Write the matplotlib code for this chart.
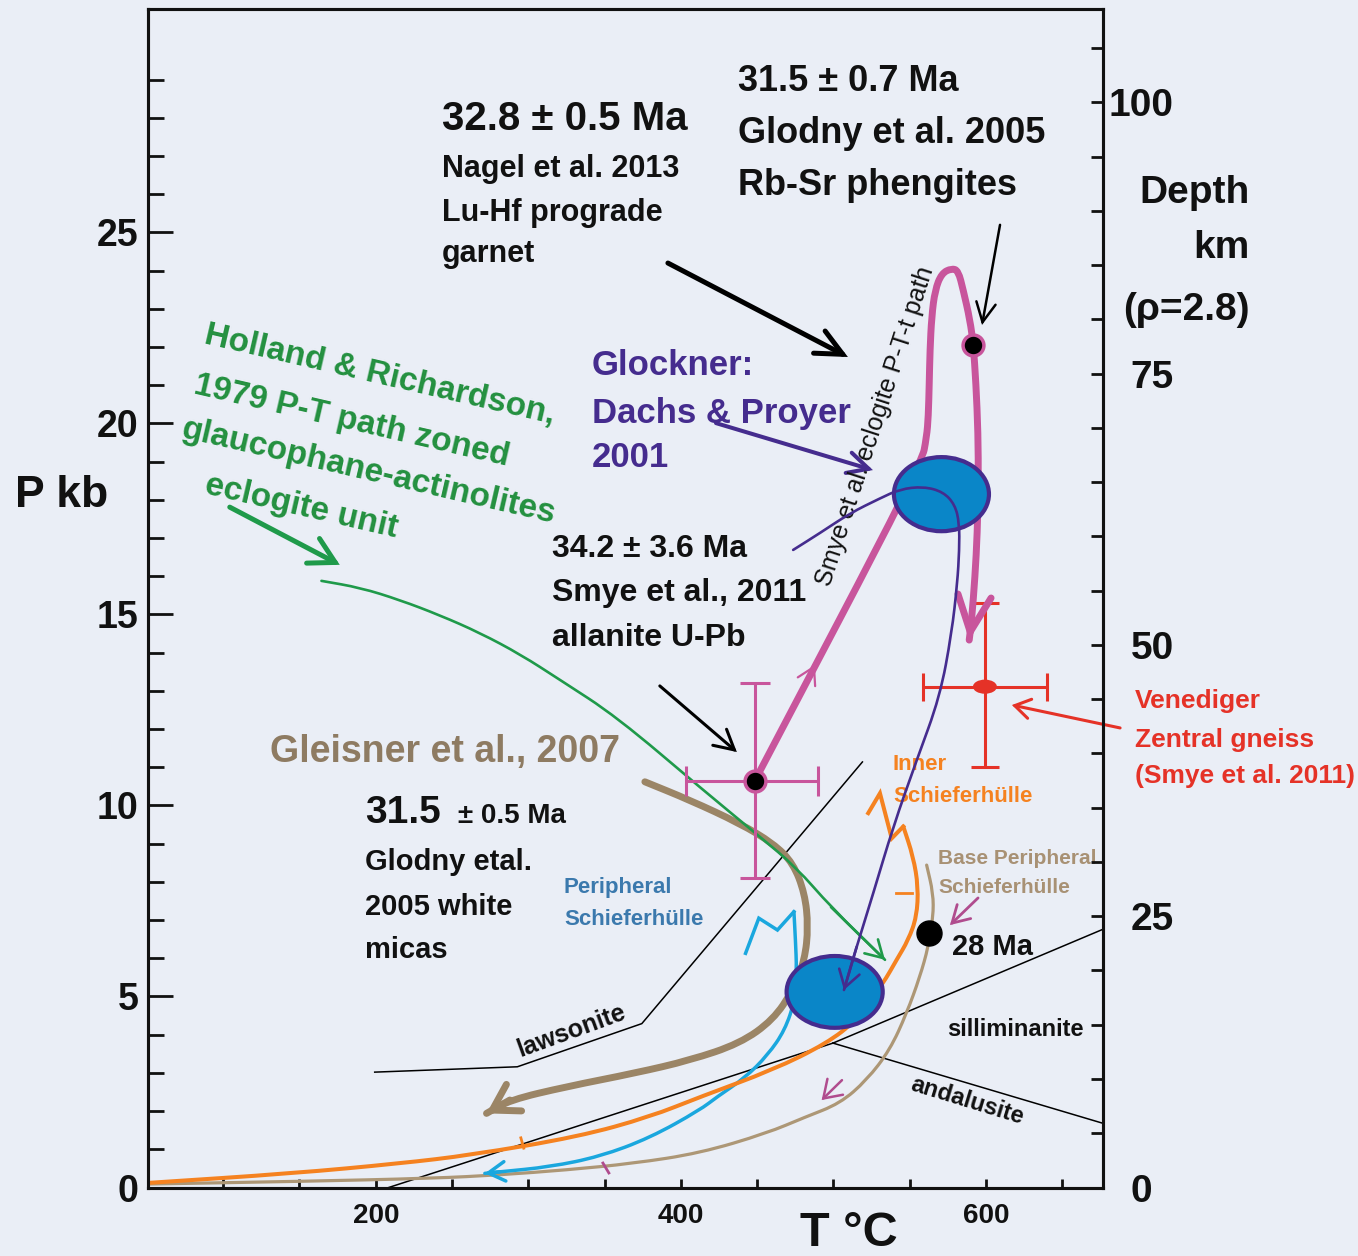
import matplotlib
matplotlib.use("Agg")
import matplotlib.pyplot as plt
from matplotlib.patches import Ellipse, PathPatch
from matplotlib.path import Path

plt.rcParams['font.family'] = ['Liberation Sans', 'DejaVu Sans']
plt.rcParams['font.weight'] = 'bold'

BG = '#eaeef6'
PINK = '#c8559c'
PURPLE = '#452c8e'
BLUE = '#0a86c8'
GREEN = '#1f9a4a'
BROWN = '#9b8566'
ORANGE = '#f58220'
CYAN = '#1aa7de'
TAN = '#ad9776'
RED = '#e53227'
MAGENTA = '#b04c8e'

# ---- data: temperature (degC) and pressure (kb) ----
# Smye et al. eclogite P-T-t path (thick pink)
pink_T = [448.5, 557.8, 561.1, 562.2, 562.8, 563.3, 564.4, 566.6, 570.9, 577.5, 581.8,
          585.1, 589.5, 591.7, 593.4, 594.8, 595.0, 594.3, 592.8, 590.6, 589.0]
pink_P = [10.65, 18.96, 19.65, 20.18, 21.05, 21.92, 22.80, 23.49, 23.93, 24.06, 24.00,
          23.49, 22.71, 22.06, 21.06, 19.75, 18.44, 17.13, 15.99, 14.86, 14.33]

# Glockner, Dachs & Proyer 2001 (thin purple)
dachs_T = [473.6, 491.1, 510.8, 530.5, 543.6, 558.9, 572.0, 579.7, 582.5, 582.5, 581.2,
           577.5, 569.8, 554.6, 539.2, 526.1, 515.2, 506.9]
dachs_P = [16.69, 17.13, 17.65, 18.04, 18.28, 18.35, 18.21, 17.87, 17.39, 16.69, 15.82,
           14.51, 12.85, 11.19, 9.45, 7.70, 6.30, 5.17]

# Holland & Richardson 1979 (green)
holland_T = [164.4, 190.0, 215.7, 242.0, 268.2, 295.0, 320.7, 358.0, 414.4, 451.8, 475.4,
             498.4, 533.8]
holland_P = [15.88, 15.70, 15.38, 14.98, 14.52, 13.95, 13.29, 12.32, 10.41, 9.18, 8.39,
             7.34, 5.96]

# Gleisner et al. 2007 (thick brown)
gleisner_T = [376.4, 405.9, 438.7, 460.5, 473.6, 481.2, 483.5, 481.2, 473.6, 460.5,
              438.7, 405.9, 370.5, 325.0, 287.9, 272.6]
gleisner_P = [10.62, 10.14, 9.53, 9.01, 8.49, 7.70, 6.83, 5.96, 5.17, 4.39,
              3.77, 3.33, 3.00, 2.64, 2.29, 1.94]

# Inner Schieferhuelle (orange); last four points are the zig-zag
inner_T = [50.7, 145.5, 215.7, 262.3, 332.9, 379.7, 412.5, 460.5, 495.5, 515.2, 532.7,
           541.4, 549.1, 554.6, 555.6, 552.3, 545.8, 538.2, 530.5, 522.8]
inner_P = [0.12, 0.37, 0.63, 0.85, 1.33, 1.85, 2.37, 3.08, 3.77, 4.38, 5.35,
           5.96, 6.48, 7.09, 7.87, 8.66, 9.45, 9.14, 10.32, 9.80]

# Peripheral Schieferhuelle (cyan); first four points are the "M"
periph_T = [442.4, 451.1, 463.3, 474.1, 475.1, 475.9, 474.8, 468.2, 457.0, 442.0,
            423.6, 412.5, 379.7, 346.9, 314.1, 281.3, 271.5]
periph_P = [6.13, 7.05, 6.74, 7.22, 6.48, 5.69, 4.91, 4.12, 3.47, 2.87,
            2.37, 2.03, 1.30, 0.81, 0.54, 0.41, 0.37]

# Base Peripheral Schieferhuelle (tan)
base_T = [561.1, 565.4, 565.4, 562.2, 556.7, 548.0, 537.0, 521.8, 504.3, 481.3,
          456.2, 412.5, 368.7, 325.0, 281.3, 237.6, 150.2, 50.7]
base_P = [8.44, 7.70, 7.09, 6.30, 5.52, 4.56, 3.60, 2.81, 2.20, 1.84,
          1.42, 0.90, 0.63, 0.46, 0.33, 0.24, 0.16, 0.09]

# reaction lines
laws_T = [199.3, 292.8, 374.4, 519.0]
laws_P = [3.02, 3.16, 4.29, 11.14]
ky_and_T = [208.5, 499.7]
ky_and_P = [0.0, 3.78]
ky_sil_T = [499.7, 676.7]
ky_sil_P = [3.78, 6.76]
and_sil_T = [499.7, 676.7]
and_sil_P = [3.78, 1.68]

# Glockner P-T fields (ellipses)
ell_T = [570.8, 500.8]
ell_P = [18.15, 5.12]
ell_w = [62.3, 63.0]
ell_h = [1.94, 1.88]

# dated points
smye_pts_T = [448.5, 591.7]
smye_pts_P = [10.65, 22.06]
smye_Terr = [[45.0], [41.5]]
smye_Perr = 2.55
ven_T = 599.3
ven_P = 13.11
ven_Terr = 40.5
ven_Perr = [[2.10], [2.19]]
ma28_T = 562.6
ma28_P = 6.65

KM_PER_KB = 3.52
depth_ticks = [0, 25, 50, 75, 100]

fig = plt.figure(figsize=(13.58, 12.56), dpi=100, facecolor=BG)
ax = fig.add_axes([148 / 1358, 1 - 1187.5 / 1256, (1103 - 148) / 1358, (1187.5 - 9) / 1256])
ax.set_facecolor(BG)
ax.set_xlim(50.7, 676.7)
ax.set_ylim(0, 30.85)


def arrow(tail, tip, color, lw, hl, hw, ms=20, z=6):
    ax.annotate('', xy=tip, xytext=tail, annotation_clip=False, zorder=z,
                arrowprops=dict(arrowstyle='->,head_length=%g,head_width=%g' % (hl, hw),
                                color=color, lw=lw, shrinkA=0, shrinkB=0,
                                mutation_scale=ms, capstyle='round', joinstyle='miter'))


def smooth(xs, ys, color, lw, z):
    # quadratic curve through segment midpoints, read points as control points
    verts = [(xs[0], ys[0]), ((xs[0] + xs[1]) / 2, (ys[0] + ys[1]) / 2)]
    codes = [Path.MOVETO, Path.LINETO]
    for i in range(1, len(xs) - 1):
        verts += [(xs[i], ys[i]), ((xs[i] + xs[i + 1]) / 2, (ys[i] + ys[i + 1]) / 2)]
        codes += [Path.CURVE3, Path.CURVE3]
    verts.append((xs[-1], ys[-1]))
    codes.append(Path.LINETO)
    ax.add_patch(PathPatch(Path(verts, codes), fill=False, edgecolor=color, lw=lw,
                           zorder=z, capstyle='round', joinstyle='round'))


# reaction lines
for xs, ys in [(laws_T, laws_P), (ky_and_T, ky_and_P), (ky_sil_T, ky_sil_P), (and_sil_T, and_sil_P)]:
    ax.plot(xs, ys, color='black', lw=1.1, zorder=2)

# terrain paths
smooth(base_T, base_P, TAN, 2.3, 3)
ax.plot(periph_T[:4], periph_P[:4], color=CYAN, lw=2.5, zorder=3, solid_joinstyle='miter')
smooth(periph_T[3:], periph_P[3:], CYAN, 2.5, 3)
arrow((periph_T[-2], periph_P[-2]), (periph_T[-1], periph_P[-1]), CYAN, 2.5, 0.6, 0.35)
smooth(inner_T[:17], inner_P[:17], ORANGE, 2.9, 3)
ax.plot(inner_T[16:], inner_P[16:], color=ORANGE, lw=2.9, zorder=3, solid_joinstyle='miter')
ax.plot([295.1, 297.0], [1.30, 1.03], color=ORANGE, lw=2, zorder=3)
ax.plot([541.0, 551.5], [7.71, 7.71], color=ORANGE, lw=2, zorder=3)
ax.plot([348.9, 352.8], [0.64, 0.38], color=MAGENTA, lw=2, zorder=3)
arrow((505.6, 2.81), (492.3, 2.29), MAGENTA, 1.8, 0.6, 0.4, z=4)

smooth(gleisner_T, gleisner_P, BROWN, 5, 3)
arrow((gleisner_T[-2], gleisner_P[-2]), (gleisner_T[-1], gleisner_P[-1]), BROWN, 5, 0.9, 0.55)

smooth(holland_T, holland_P, GREEN, 1.9, 4)
arrow((holland_T[-2], holland_P[-2]), (holland_T[-1], holland_P[-1]), GREEN, 1.9, 0.6, 0.35)

# Smye et al. error bar and path
ax.errorbar(smye_pts_T[0], smye_pts_P[0], xerr=smye_Terr, yerr=smye_Perr, fmt='none',
            ecolor=PINK, elinewidth=2.2, capsize=11, capthick=2.2, zorder=4)
smooth(pink_T, pink_P, PINK, 5, 5)
arrow((pink_T[-2], pink_P[-2]), (pink_T[-1], pink_P[-1]), PINK, 5, 1.3, 0.6)
arrow((475.0, 12.66), (487.9, 13.68), PINK, 1.6, 0.6, 0.35)

# Venediger
ax.errorbar(ven_T, ven_P, xerr=ven_Terr, yerr=ven_Perr, fmt='none', ecolor=RED,
            elinewidth=2.2, capsize=10, capthick=2.2, zorder=4)
ax.add_patch(Ellipse((ven_T, ven_P), 15.7, 0.37, facecolor=RED, edgecolor='none', zorder=5))

# Glockner ellipses
for t, p, w, h in zip(ell_T, ell_P, ell_w, ell_h):
    ax.add_patch(Ellipse((t, p), w, h, facecolor=BLUE, edgecolor=PURPLE, lw=3, zorder=7))
smooth(dachs_T, dachs_P, PURPLE, 1.9, 8)
arrow((dachs_T[-2], dachs_P[-2]), (dachs_T[-1], dachs_P[-1]), PURPLE, 1.9, 0.6, 0.38, z=8)

# dots
ax.plot(smye_pts_T, smye_pts_P, 'o', ms=15, mfc='black', mec=PINK, mew=2.5, zorder=9)
ax.plot([ma28_T], [ma28_P], 'o', ms=18, mfc='black', mec='black', zorder=9)

# pointer arrows
arrow((391.5, 24.20), (509.5, 21.74), 'black', 3.6, 0.95, 0.45)
arrow((609.2, 25.20), (597.4, 22.58), 'black', 1.8, 0.7, 0.35)
arrow((386.2, 13.13), (436.7, 11.40), 'black', 2.2, 0.7, 0.38)
arrow((423.0, 20.01), (525.9, 18.78), PURPLE, 2.9, 0.75, 0.38)
arrow((104.3, 17.81), (176.4, 16.30), GREEN, 3.6, 0.9, 0.5)
arrow((687.9, 12.03), (617.0, 12.63), RED, 2.2, 0.55, 0.35)
arrow((594.8, 7.58), (576.4, 6.87), MAGENTA, 2.0, 0.6, 0.35)

# ---- annotations ----
ax.text(243.3, 27.67, '32.8 \u00b1 0.5 Ma', fontsize=29, color='#111111')
ax.text(243.3, 26.45, 'Nagel et al. 2013', fontsize=22, color='#111111')
ax.text(243.3, 25.30, 'Lu-Hf prograde', fontsize=22, color='#111111')
ax.text(243.3, 24.23, 'garnet', fontsize=22, color='#111111')

ax.text(437.4, 28.71, '31.5 \u00b1 0.7 Ma', fontsize=26, color='#111111')
ax.text(437.4, 27.34, 'Glodny et al. 2005', fontsize=26, color='#111111')
ax.text(437.4, 25.98, 'Rb-Sr phengites', fontsize=26, color='#111111')

ax.text(341.6, 21.26, 'Glockner:', fontsize=25, color=PURPLE)
ax.text(341.6, 20.01, 'Dachs & Proyer', fontsize=25, color=PURPLE)
ax.text(341.6, 18.85, '2001', fontsize=25, color=PURPLE)

for s, t, p in [('Holland & Richardson,', 86.6, 22.11), ('1979 P-T path zoned', 80.0, 20.80),
                ('glaucophane-actinolites', 71.5, 19.65), ('eclogite unit', 87.2, 18.18)]:
    ax.text(t, p, s, fontsize=24, color='#23903f', rotation=-13, rotation_mode='anchor',
            ha='left', va='baseline')

ax.text(315.4, 16.51, '34.2 \u00b1 3.6 Ma', fontsize=23, color='#111111')
ax.text(315.4, 15.35, 'Smye et al., 2011', fontsize=23, color='#111111')
ax.text(315.4, 14.18, 'allanite U-Pb', fontsize=23, color='#111111')

ax.text(130.5, 11.14, 'Gleisner et al., 2007', fontsize=27, color='#8e7b62')

ax.text(192.8, 9.54, '31.5', fontsize=28, color='#111111')
ax.text(253.8, 9.54, '\u00b1 0.5 Ma', fontsize=20, color='#111111')
ax.text(192.8, 8.31, 'Glodny etal.', fontsize=21, color='#111111')
ax.text(192.8, 7.13, '2005 white', fontsize=21, color='#111111')
ax.text(192.8, 6.01, 'micas', fontsize=21, color='#111111')

ax.text(323.3, 7.71, 'Peripheral', fontsize=16, color='#3b79ad')
ax.text(323.3, 6.87, 'Schieferh\u00fclle', fontsize=16, color='#3b79ad')
ax.text(539.0, 10.93, 'Inner', fontsize=16, color=ORANGE)
ax.text(539.0, 10.09, 'Schieferh\u00fclle', fontsize=16, color=ORANGE)
ax.text(568.5, 8.47, 'Base Peripheral', fontsize=15, color='#a89174')
ax.text(568.5, 7.71, 'Schieferh\u00fclle', fontsize=15, color='#a89174')
ax.text(577.7, 6.09, '28 Ma', fontsize=21, color='#111111')

ax.text(574.4, 3.97, 'silliminanite', fontsize=17, color='#111111')
ax.text(549.5, 2.55, 'andalusite', fontsize=17, color='#111111', rotation=-17,
        rotation_mode='anchor')
ax.text(294.4, 3.42, 'lawsonite', fontsize=18, color='#111111', rotation=20,
        rotation_mode='anchor')
ax.text(497.7, 15.72, 'Smye et al. eclogite P-T-t path', fontsize=18, fontweight='normal',
        color='#111111', rotation=72, rotation_mode='anchor', zorder=6)

# axis labels and side texts
fig.text(15 / 1358, 1 - 507 / 1256, 'P kb', fontsize=32, color='#111111')
fig.text(800 / 1358, 0.0, 'T \u00b0C', fontsize=35, va='bottom', color='#111111')
fig.text(1250 / 1358, 1 - 203 / 1256, 'Depth', fontsize=28, ha='right', color='#111111')
fig.text(1250 / 1358, 1 - 258 / 1256, 'km', fontsize=28, ha='right', color='#111111')
fig.text(1250 / 1358, 1 - 320 / 1256, '(\u03c1=2.8)', fontsize=28, ha='right', color='#111111')
for s, yy in [('Venediger', 708), ('Zentral gneiss', 747), ('(Smye et al. 2011)', 783)]:
    fig.text(1135 / 1358, 1 - yy / 1256, s, fontsize=19, color=RED)

# ---- axes styling ----
for sp in ax.spines.values():
    sp.set_linewidth(2.2)
    sp.set_color('#111111')

ax.set_xticks([200, 400, 600])
ax.set_xticklabels(['200', '400', '600'])
ax.set_xticks([100, 150, 250, 300, 350, 450, 500, 550, 650], minor=True)
ax.tick_params(axis='x', which='both', direction='in', length=6.5, width=2, pad=11,
               labelsize=20, top=False, colors='#111111')

ax.set_yticks([0, 5, 10, 15, 20, 25])
ax.set_yticks([v for v in range(1, 31) if v % 5 != 0], minor=True)
ax.tick_params(axis='y', which='major', direction='in', length=18, width=2, pad=7,
               labelsize=27, right=False, colors='#111111')
ax.tick_params(axis='y', which='minor', direction='in', length=11.5, width=2, right=False,
               colors='#111111')

ax2 = ax.twinx()
ax2.set_ylim(0, 30.85 * KM_PER_KB)
ax2.set_yticks(depth_ticks)
ax2.set_yticklabels(['0  '] + [str(v) for v in depth_ticks[1:]])
ax2.set_yticks([v for v in range(5, 110, 5) if v % 25 != 0], minor=True)
ax2.tick_params(axis='y', which='both', direction='in', length=9, width=2, colors='#111111')
ax2.tick_params(axis='y', which='major', pad=51, labelsize=28)
plt.setp(ax2.get_yticklabels(), ha='right')
for sp in ax2.spines.values():
    sp.set_linewidth(2.2)
    sp.set_color('#111111')

fig.savefig('out.png', dpi=100, facecolor=BG)
